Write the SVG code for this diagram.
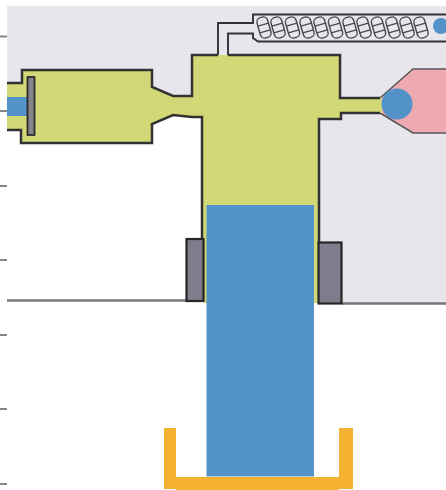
<svg xmlns="http://www.w3.org/2000/svg" width="446" height="490" viewBox="0 0 446 490">
<style>
.tick{fill:#88868c}
.wall{fill:none;stroke:#333;stroke-width:2.5;stroke-linejoin:miter}
.loop{fill:#e8e6ec;stroke:#4a4a4a;stroke-width:1.4}
.mid{fill:none;stroke:#4a4a4a;stroke-width:1.4}
.blue{fill:#5393c9}
.block{fill:#7f7d8b;stroke:#262626;stroke-width:2.2}
.orange{fill:#f4b133}
.floor{fill:none;stroke:#77767a;stroke-width:2.4}
</style>
<defs>
<filter id="soft" x="-5%" y="-5%" width="110%" height="110%"><feGaussianBlur stdDeviation="0.5"/></filter>
<g id="coil"><rect class="loop" x="-5.500" y="-10.500" width="11" height="21" rx="4.500"/><path class="mid" d="M-5.500-3h11M-5.500 4h11"/></g>
</defs>
<rect width="446" height="490" fill="#fff"/>
<g filter="url(#soft)">
<path d="M7 6H446V303H318V117H192L173 115L152 124V143H21V130H7Z" fill="#e8e6ec"/>
<g><rect class="tick" x="0" y="35.500" width="7" height="2"/><rect class="tick" x="0" y="110" width="7" height="2"/><rect class="tick" x="0" y="185" width="7" height="2"/><rect class="tick" x="0" y="259" width="7" height="2"/><rect class="tick" x="0" y="334" width="7" height="2"/><rect class="tick" x="0" y="408" width="7" height="2"/><rect class="tick" x="0" y="483" width="7" height="2"/></g>
<path class="floor" d="M7 300.500H186M342 303.500H446"/>
<g id="coil-tube">
<path class="wall" style="stroke-width:1.900" d="M218 55V23H253V14.500H446M228 55V33.500H253V38L258 41.500H446"/>
<use href="#coil" transform="translate(264 27.500) rotate(-16)"/><use href="#coil" transform="translate(278 27.500) rotate(-16)"/><use href="#coil" transform="translate(292.500 27.500) rotate(-16)"/><use href="#coil" transform="translate(307 27.500) rotate(-16)"/><use href="#coil" transform="translate(321 27.500) rotate(-16)"/><use href="#coil" transform="translate(335.500 27.500) rotate(-16)"/><use href="#coil" transform="translate(350 27.500) rotate(-16)"/><use href="#coil" transform="translate(364 27.500) rotate(-16)"/><use href="#coil" transform="translate(378.500 27.500) rotate(-16)"/><use href="#coil" transform="translate(393 27.500) rotate(-16)"/><use href="#coil" transform="translate(407 27.500) rotate(-16)"/><use href="#coil" transform="translate(421 27.500) rotate(-16)"/>
<circle class="blue" cx="441" cy="26" r="8"/>
</g>
<g id="reservoir">
<path d="M380 98L413 69H446V133H413L380 113Z" fill="#efa9b0"/>
<path d="M380 98L413 69H446M380 113L413 133H446" fill="none" stroke="#555" stroke-width="1.500"/>
</g>
<g id="chamber">
<path d="M7 83H22V70H152V87L173 96H192V55H340V98H382V113H341V118H319V303H204V239H202V117H192L173 115L152 124V143H21V130H7Z" fill="#d2d876"/>
<path class="wall" d="M7 83H22V70H152V87L173 96H192V55H218M228 55H340V98H380M380 113H341V119H319V243M202 239V117H192L173 115L152 124V143H21V130H7"/>
</g>
<circle id="drop" class="blue" cx="397" cy="104" r="15.500"/>
<rect id="inlet" class="blue" x="7" y="97" width="20" height="19"/>
<rect id="piston" x="27.500" y="77" width="7" height="58" fill="#85858b" stroke="#2c2c2c" stroke-width="1.800"/>
<rect id="seal-left" class="block" x="186.500" y="239" width="17" height="62"/>
<rect id="seal-right" class="block" x="318.500" y="242.500" width="23" height="61"/>
<path id="tray" class="orange" d="M164 428H176V477H339V428H353V489H339V490H176V489H164Z"/>
<rect id="column" class="blue" x="206.500" y="205" width="107.500" height="271.500"/>
</g>
</svg>
